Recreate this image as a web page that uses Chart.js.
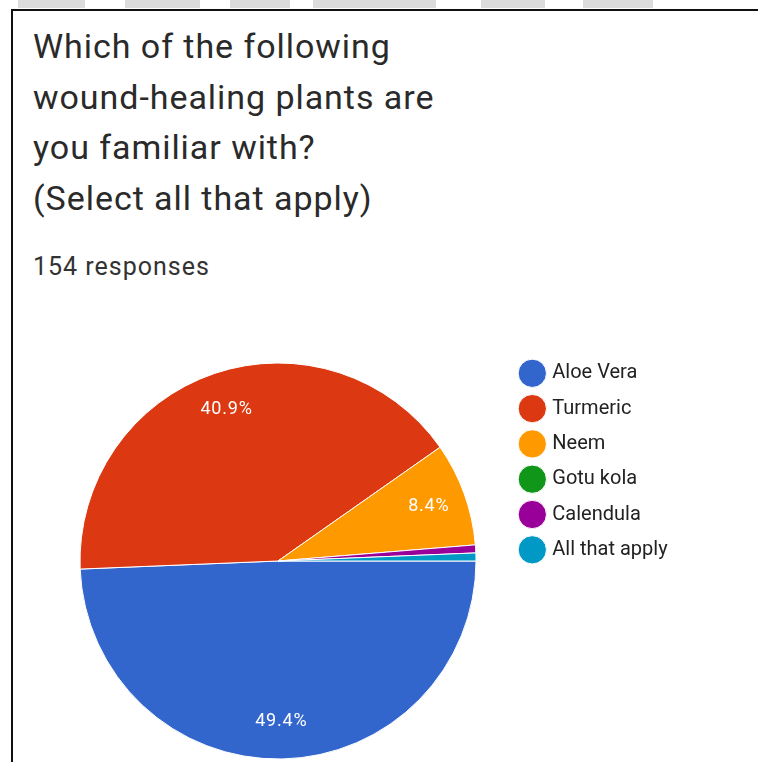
<!DOCTYPE html>
<html>
<head>
<meta charset="utf-8">
<script src="https://cdn.jsdelivr.net/npm/chart.js@4"></script>
<style>
  html, body { margin: 0; padding: 0; background: #fff; overflow: hidden; width: 758px; height: 762px; }
  .band { position: absolute; top: 0; height: 8px; background: #dcdcdc; }
  .card { position: absolute; left: 11px; top: 9px; width: 800px; height: 800px; border: 2px solid #111; box-sizing: border-box; }
  .title { position: absolute; left: 33px; top: 21px; font-family: Roboto, sans-serif; font-size: 34px; line-height: 50.5px; letter-spacing: 0.95px; color: #2a2a2a; }
  .count { position: absolute; left: 33px; top: 252px; font-family: Roboto, sans-serif; font-size: 25px; line-height: 30px; letter-spacing: 1px; color: #333; }
  #pie { position: absolute; left: 49px; top: 348px; }
</style>
</head>
<body>
<div class="band" style="left:18px;width:67px"></div>
<div class="band" style="left:125px;width:75px"></div>
<div class="band" style="left:230px;width:60px"></div>
<div class="band" style="left:313px;width:123px"></div>
<div class="band" style="left:481px;width:64px"></div>
<div class="band" style="left:583px;width:70px"></div>
<div class="card"></div>
<div class="title">Which of the following<br>wound-healing plants are<br>you familiar with?<br>(Select all that apply)</div>
<div class="count">154 responses</div>
<canvas id="pie" width="709" height="426"></canvas>
<script>
// survey answers
var plants = ['Aloe Vera', 'Turmeric', 'Neem', 'Gotu kola', 'Calendula', 'All that apply'];
var responses = [76, 63, 13, 0, 1, 1];
var sliceColors = ['#3366cc', '#dc3912', '#ff9900', '#109618', '#990099', '#0099c6'];

var pieRadius = 198;
var areaWidth = 458;

// percentage text inside the bigger slices
var sliceLabels = {
  id: 'sliceLabels',
  afterDatasetsDraw: function(chart) {
    var ctx = chart.ctx;
    var values = chart.data.datasets[0].data;
    var total = values.reduce(function(a, b) { return a + b; }, 0);
    ctx.save();
    ctx.font = '18px Roboto';
    ctx.letterSpacing = '0.8px';
    ctx.fillStyle = '#fff';
    ctx.textAlign = 'center';
    ctx.textBaseline = 'middle';
    chart.getDatasetMeta(0).data.forEach(function(arc, i) {
      var share = values[i] / total * 100;
      if (share < 5) return;
      var p = arc.getProps(['x', 'y', 'startAngle', 'endAngle', 'outerRadius'], true);
      var mid = (p.startAngle + p.endAngle) / 2;
      var r = p.outerRadius * 0.81;
      ctx.fillText(share.toFixed(1) + '%', p.x + Math.cos(mid) * r, p.y + Math.sin(mid) * r);
    });
    ctx.restore();
  }
};

var ctx = document.getElementById('pie').getContext('2d');
var pieChart = new Chart(ctx, {
  type: 'pie',
  data: {
    labels: plants,
    datasets: [{
      data: responses,
      backgroundColor: sliceColors,
      borderColor: '#fff',
      borderWidth: 1,
      radius: pieRadius
    }]
  },
  options: {
    responsive: false,
    animation: false,
    rotation: 90,
    layout: { padding: 0 },
    plugins: {
      legend: {
        position: 'right',
        align: 'start',
        labels: {
          usePointStyle: true,
          pointStyle: 'circle',
          padding: 15.3,
          color: '#222',
          font: { family: 'Roboto', size: 20 }
        }
      },
      tooltip: { enabled: false }
    }
  },
  plugins: [sliceLabels]
});

// keep the pie area a fixed width so the legend sits beside it
pieChart.options.layout.padding = { right: Math.max(0, 709 - areaWidth - pieChart.legend.width) };
pieChart.update();
</script>
</body>
</html>
